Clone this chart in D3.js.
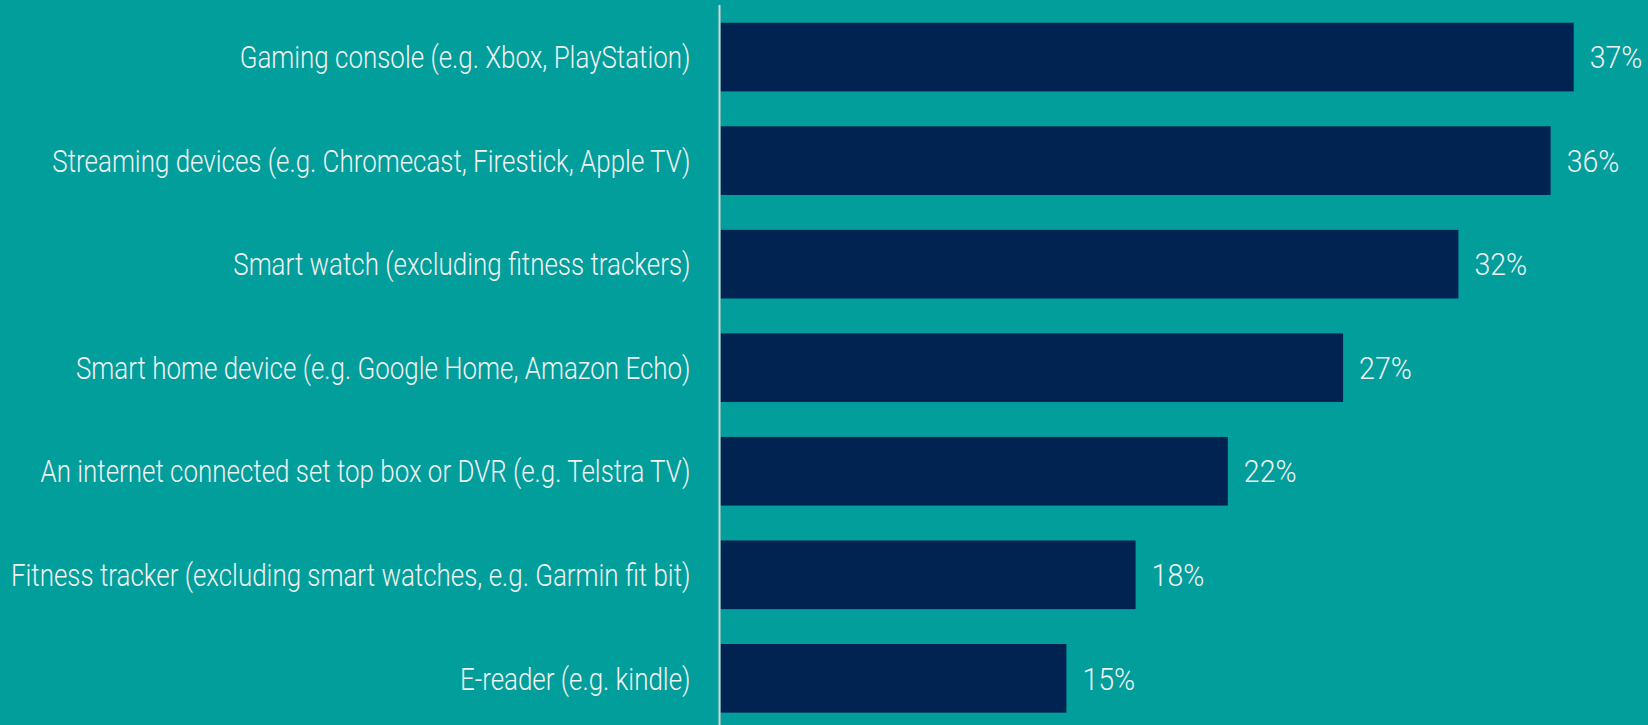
<!DOCTYPE html>
<html lang="en">
<head>
  <meta charset="UTF-8">
  <title>Connected devices</title>
  <script src="https://cdn.jsdelivr.net/npm/d3@7"></script>
  <style>
    body {
      margin: 0;
      background: #019e9c;
      overflow: hidden;
    }
    svg { display: block; }
    .label, .value {
      font-family: Roboto, "Noto Sans", sans-serif;
      font-weight: 300;
      font-size: 32px;
      fill: #f2f2f2;
    }
  </style>
</head>
<body>
  <svg id="chart" width="1648" height="725"></svg>
  <script>
    // categories and values, top to bottom
    const categories = [
      'Gaming console (e.g. Xbox, PlayStation)',
      'Streaming devices (e.g. Chromecast, Firestick, Apple TV)',
      'Smart watch (excluding fitness trackers)',
      'Smart home device (e.g. Google Home, Amazon Echo)',
      'An internet connected set top box or DVR (e.g. Telstra TV)',
      'Fitness tracker (excluding smart watches, e.g. Garmin fit bit)',
      'E-reader (e.g. kindle)'
    ];
    const values = [37, 36, 32, 27, 22, 18, 15];

    const width  = 1648;
    const height = 725;
    const x0 = 720.5;
    const labelRight = 690.5;
    const longestWidth = 680;   // the widest label spans about this much

    const svg = d3.select('#chart');

    const x = d3.scaleLinear()
      .domain([0, 37])
      .range([x0, 1573.7]);

    const y = d3.scaleBand()
      .domain(categories)
      .range([5.3, 730.1])
      .paddingInner(0.337)
      .paddingOuter(0.1685);

    const cy = (i) => y(categories[i]) + y.bandwidth() / 2;

    // bars
    svg.selectAll('rect.bar')
      .data(values)
      .join('rect')
        .attr('class', 'bar')
        .attr('x', x(0))
        .attr('y', (d, i) => y(categories[i]))
        .attr('width', d => x(d) - x(0))
        .attr('height', y.bandwidth())
        .attr('fill', '#002352');

    // category labels (condensed look: squeeze horizontally)
    const labels = svg.selectAll('text.label')
      .data(categories)
      .join('text')
        .attr('class', 'label')
        .attr('dy', '0.35em')
        .attr('text-anchor', 'end')
        .text(d => d);

    let maxW = 0;
    labels.each(function() { maxW = Math.max(maxW, this.getComputedTextLength()); });
    const k = longestWidth / maxW;

    labels.attr('transform', (d, i) => `translate(${labelRight},${cy(i)}) scale(${k},1)`);

    // value labels (numerals are a bit wider than the labels)
    svg.selectAll('text.value')
      .data(values)
      .join('text')
        .attr('class', 'value')
        .attr('dy', '0.35em')
        .attr('transform', (d, i) => `translate(${x(d) + 16},${cy(i)}) scale(${k * 1.1},1)`)
        .text(d => d + '%');

    // axis line
    svg.append('line')
      .attr('x1', x0 - 1).attr('x2', x0 - 1)
      .attr('y1', 5).attr('y2', height)
      .attr('stroke', '#d6d6d6')
      .attr('stroke-width', 2);
  </script>
</body>
</html>
